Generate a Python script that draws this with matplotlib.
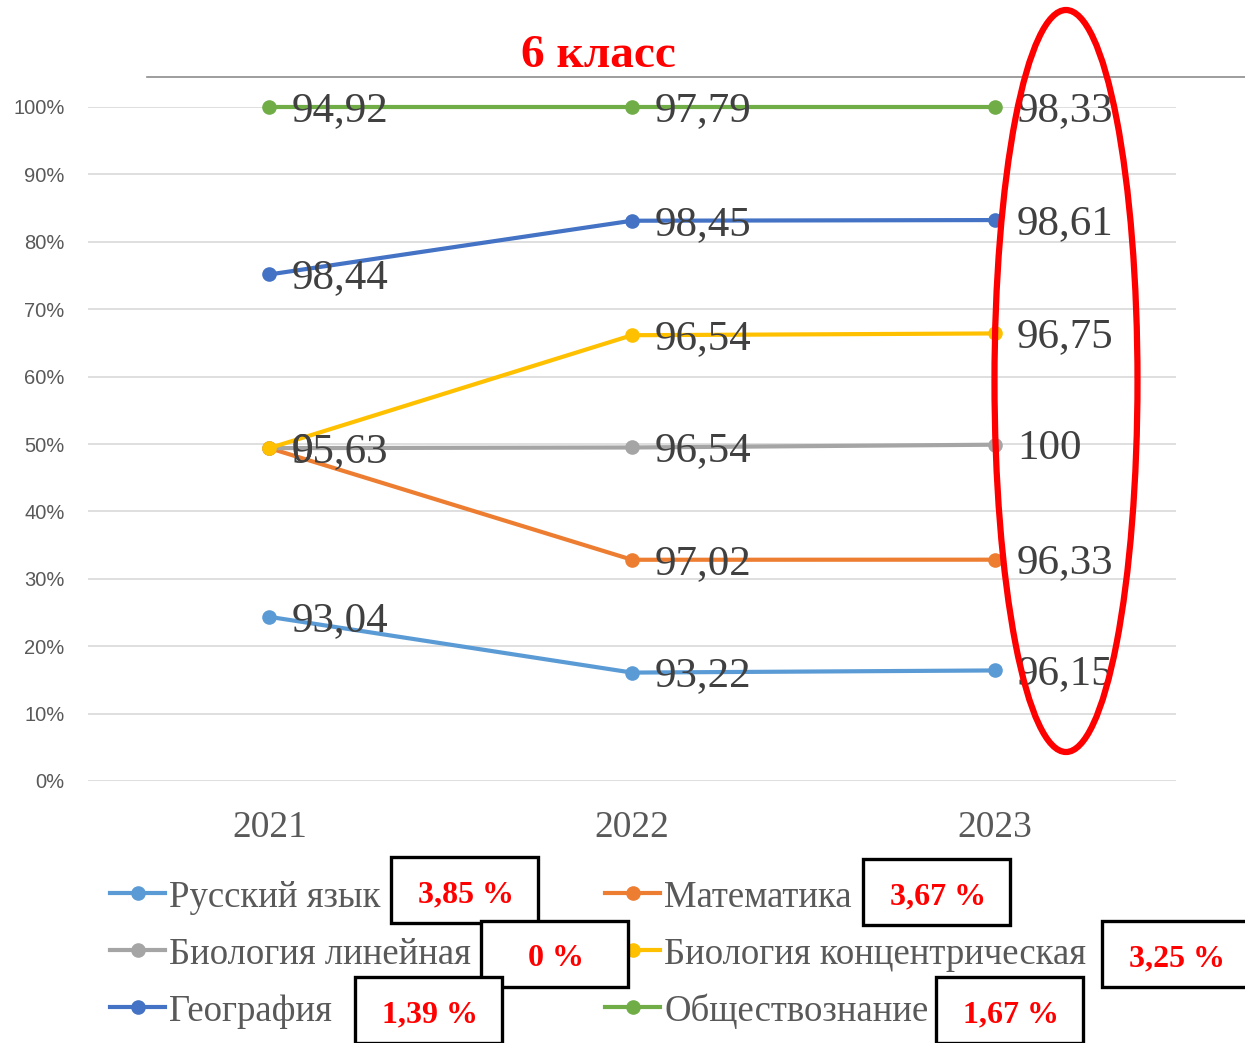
import numpy as np
import matplotlib
matplotlib.use("Agg")
import matplotlib.pyplot as plt
from matplotlib.lines import Line2D
from matplotlib.patches import Rectangle, Ellipse
from matplotlib.ticker import PercentFormatter

W, H = 1245, 1043

years = ["2021", "2022", "2023"]
subjects = ["Русский язык", "Математика", "Биология линейная",
            "Биология концентрическая", "География", "Обществознание"]
russian = [93.04, 93.22, 96.15]
math_ = [95.63, 97.02, 96.33]
bio_lin = [0, 96.54, 100]
bio_conc = [0, 96.54, 96.75]
geo = [98.44, 98.45, 98.61]
society = [94.92, 97.79, 98.33]
changes = ["3,85 %", "3,67 %", "0 %", "3,25 %", "1,39 %", "1,67 %"]

colors = ["#5B9BD5", "#ED7D31", "#A5A5A5", "#FFC000", "#4472C4", "#70AD47"]

values = np.array([russian, math_, bio_lin, bio_conc, geo, society])
# excel "100% stacked line": cumulative share of the column total
stacked = np.cumsum(values, axis=0) / values.sum(axis=0)

serif = "Liberation Serif"
grey_txt = "#595959"


def fmt(v):
    if float(v).is_integer():
        return str(int(v))
    return f"{v:.2f}".replace(".", ",")


def px(x, y):
    return x / W, 1 - y / H


fig = plt.figure(figsize=(W / 100, H / 100), dpi=100)
ax = fig.add_axes([88 / W, 1 - 781 / H, (1176 - 88) / W, (781 - 107) / H])

x = np.arange(len(years))
for i in range(len(subjects)):
    ax.plot(x, stacked[i], color=colors[i], lw=3.0, marker="o", ms=9.5,
            solid_capstyle="round", clip_on=False, zorder=3)

for i in range(len(subjects)):
    for j in range(len(years)):
        ax.annotate(fmt(values[i, j]), (x[j], stacked[i, j]), xytext=(16, -10),
                    textcoords="offset points", ha="left", va="baseline",
                    fontsize=31, family=serif, color="#404040", zorder=5)

ax.set_xlim(-0.5, 2.5)
ax.set_ylim(0, 1)
ax.set_yticks(np.arange(0, 1.01, 0.1))
ax.yaxis.set_major_formatter(PercentFormatter(1.0, decimals=0))
ax.set_xticks(x)
ax.set_xticklabels(years, family=serif, fontsize=27, color=grey_txt)
ax.tick_params(axis="y", length=0, pad=17, labelsize=14.5, labelcolor=grey_txt)
ax.tick_params(axis="x", length=0, pad=21)
for lab in ax.get_yticklabels():
    lab.set_family("Liberation Sans")
ax.grid(axis="y", color="#d9d9d9", lw=1.2)
ax.set_axisbelow(True)
for s in ax.spines.values():
    s.set_visible(False)

# title and line under it
fig.text(*px(598, 67), "6 класс", ha="center", va="baseline", fontsize=34,
         fontweight="bold", family=serif, color="red")
fig.add_artist(Line2D([147 / W, 1.0], [1 - 77 / H] * 2, color="#8c8c8c", lw=1.2))

# red ellipse around 2023
fig.add_artist(Ellipse(px(1066, 381), 143 / W, 742 / H, fill=False,
                       ec="red", lw=4.5, zorder=10))

# legend, laid out row by row like excel
leg_pos = [(110, 893), (605, 893), (110, 950), (605, 950), (110, 1007), (605, 1007)]
for i, (lx, ly) in enumerate(leg_pos):
    fig.add_artist(Line2D([lx / W, (lx + 55) / W], [1 - ly / H] * 2, color=colors[i],
                          lw=3.0, zorder=3))
    fig.add_artist(Line2D([(lx + 27.5) / W], [1 - ly / H], color=colors[i],
                          marker="o", ms=9.5, lw=0))
    fig.text(*px(lx + 59, ly + 14), subjects[i], ha="left", va="baseline",
             fontsize=26.5, family=serif, color=grey_txt)

# boxes with changes
box_pos = [(391, 857), (863, 859), (481, 921), (1102, 921), (355, 977), (936, 977)]
for lab, (bx, by) in zip(changes, box_pos):
    fig.add_artist(Rectangle(px(bx, by + 66), 147 / W, 66 / H, fc="white",
                             ec="black", lw=2.4, zorder=8))
    fig.text(*px(bx + 75, by + 45), lab, ha="center", va="baseline", fontsize=23,
             fontweight="bold", family=serif, color="red", zorder=9)

fig.savefig("out.png", dpi=100)
